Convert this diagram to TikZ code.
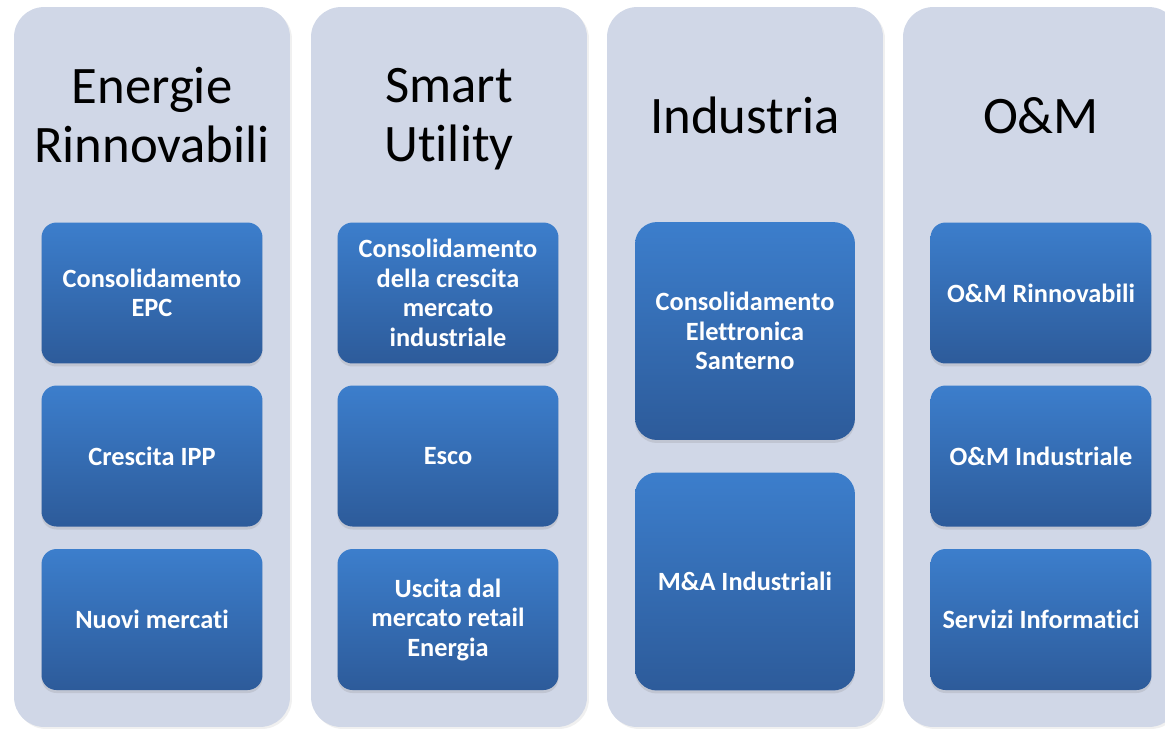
\documentclass[tikz,border=0pt]{standalone}
\usepackage{fontspec}
\setmainfont[Ligatures=NoCommon]{Carlito}
\usetikzlibrary{shadows}

\definecolor{panelfill}{RGB}{208,215,231}
\definecolor{boxtop}{RGB}{60,126,204}
\definecolor{boxbottom}{RGB}{45,91,154}

\tikzset{
  panel/.style={rectangle, fill=panelfill, rounded corners=0.6cm, minimum width=5.52cm, minimum height=14.4cm,
    drop shadow={opacity=0.12, shadow xshift=0.04cm, shadow yshift=-0.04cm}},
  title/.style={align=center, text depth=0pt, font=\fontsize{30pt}{33.6pt}\selectfont},
  item/.style={rectangle, rounded corners=0.3cm, top color=boxtop, bottom color=boxbottom, text=white,
    align=center, inner sep=0pt, minimum width=4.42cm, minimum height=2.82cm,
    font=\fontsize{15pt}{16.8pt}\selectfont\bfseries,
    drop shadow={opacity=0.2, shadow xshift=0cm, shadow yshift=-0.06cm}},
  bigitem/.style={item, rounded corners=0.44cm, minimum width=4.4cm, minimum height=4.36cm},
}

\begin{document}
\begin{tikzpicture}[x=0.02cm, y=-0.02cm]

\useasboundingbox (0,0) rectangle (1165,728);

% Colonne
\node[panel] (p1) at (152,367) {};
\node[panel] (p2) at (449,367) {};
\node[panel] (p3) at (745,367) {};
\node[panel] (p4) at (1041,367) {};

% Titoli
\node[title] (t1) at (152,115) {Energie\\Rinnovabili};
\node[title] (t2) at (449,115) {Smart\\Utility};
\node[title] (t3) at (745,115) {Industria};
\node[title] (t4) at (1041,115) {O\&M};

% Energie Rinnovabili
\node[item] (er1) at (152,293) {Consolidamento\\EPC};
\node[item] (er2) at (152,456) {Crescita IPP};
\node[item] (er3) at (152,619.5) {Nuovi mercati};

% Smart Utility
\node[item] (su1) at (448,293) {Consolidamento\\della crescita\\mercato\\industriale};
\node[item] (su2) at (448,456) {Esco};
\node[item] (su3) at (448,619.5) {Uscita dal\\mercato retail\\Energia};

% Industria
\node[bigitem] (in1) at (745,331) {Consolidamento\\Elettronica\\Santerno};
\node[bigitem] (in2) at (745,581.5) {M\&A Industriali};

% O&M
\node[item] (om1) at (1041,293) {O\&M Rinnovabili};
\node[item] (om2) at (1041,456) {O\&M Industriale};
\node[item] (om3) at (1041,619.5) {Servizi Informatici};

\end{tikzpicture}
\end{document}
